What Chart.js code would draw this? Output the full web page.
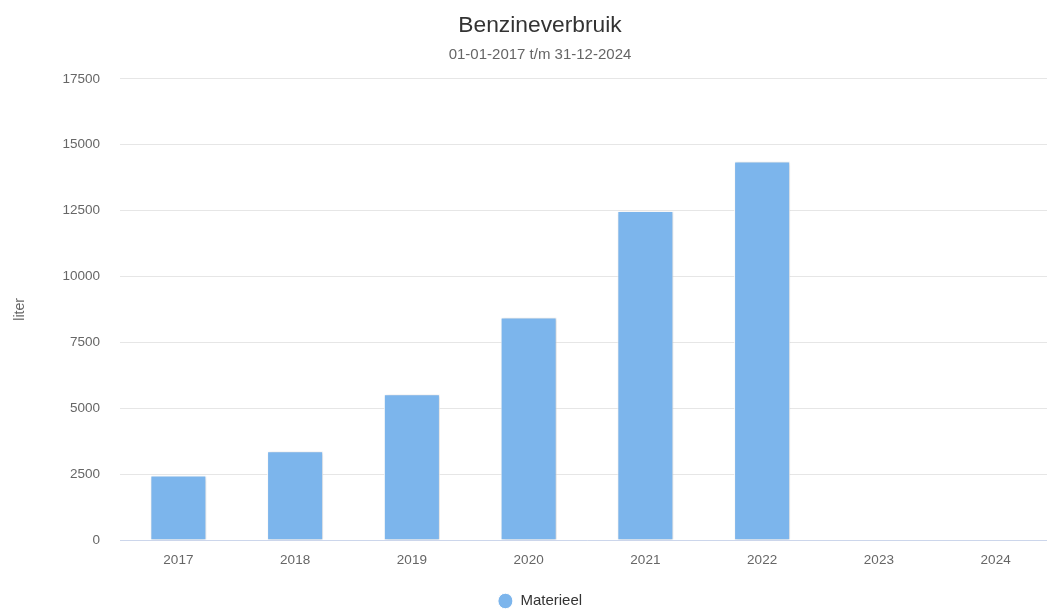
<!DOCTYPE html>
<html>
<head>
<meta charset="utf-8">
<title>Benzineverbruik</title>
<script src="https://cdn.jsdelivr.net/npm/chart.js@4/dist/chart.umd.min.js"></script>
<style>
  html, body { margin: 0; padding: 0; background: #ffffff; overflow: hidden; }
  #wrap { position: absolute; left: 0; top: 0; width: 1080px; height: 610px; }
</style>
</head>
<body>
<div id="wrap"><canvas id="chart"></canvas></div>
<script>
// Years on the x axis
const years = ['2017', '2018', '2019', '2020', '2021', '2022', '2023', '2024'];
// Fuel use per year, in liters
const materieel = [2447, 3371, 5529, 8447, 12481, 14368, 0, 0];
// Value axis range and step
const yMin = 0;
const yMax = 17500;
const yStep = 2500;

const FONT = "'Liberation Sans', Arial, Helvetica, sans-serif";

// Soft drop shadow behind the columns
const columnShadow = {
  id: 'columnShadow',
  beforeDatasetsDraw(chart) {
    const ctx = chart.ctx;
    ctx.save();
    ctx.shadowColor = 'rgba(0, 0, 0, 0.2)';
    ctx.shadowBlur = 3;
    ctx.shadowOffsetX = 1;
    ctx.shadowOffsetY = 1;
  },
  afterDatasetsDraw(chart) {
    chart.ctx.restore();
  }
};

new Chart(document.getElementById('chart'), {
  type: 'bar',
  data: {
    labels: years,
    datasets: [{
      label: 'Materieel',
      data: materieel,
      backgroundColor: '#7cb5ec',
      borderColor: '#ffffff',
      borderWidth: 1,
      categoryPercentage: 0.6,
      barPercentage: 0.8
    }]
  },
  plugins: [columnShadow],
  options: {
    responsive: true,
    maintainAspectRatio: false,
    animation: false,
    layout: { padding: { left: 26, right: 26, top: 0, bottom: -8.5 } },
    plugins: {
      title: {
        display: true,
        text: 'Benzineverbruik',
        color: '#333333',
        font: { family: FONT, size: 22.8, weight: 'normal' },
        padding: { top: 12, bottom: 0 }
      },
      subtitle: {
        display: true,
        text: '01-01-2017 t/m 31-12-2024',
        color: '#666666',
        font: { family: FONT, size: 15, weight: 'normal' },
        padding: { top: 6, bottom: 15.5 }
      },
      legend: {
        display: true,
        position: 'bottom',
        labels: {
          usePointStyle: true,
          pointStyle: 'circle',
          boxHeight: 11,
          boxWidth: 15,
          pointStyleWidth: 15,
          color: '#333333',
          font: { family: FONT, size: 15 },
          padding: 2
        }
      },
      tooltip: { enabled: false }
    },
    scales: {
      x: {
        grid: { display: false, drawTicks: false },
        border: { display: true, color: '#ccd6eb', width: 1 },
        ticks: {
          color: '#666666',
          font: { family: FONT, size: 13.5 },
          padding: 12,
          maxRotation: 0
        },
        afterFit(scale) { scale.height = 51.5; }
      },
      y: {
        min: yMin,
        max: yMax,
        grid: { color: '#e6e6e6', drawTicks: false },
        border: { display: false },
        ticks: {
          stepSize: yStep,
          color: '#666666',
          font: { family: FONT, size: 13.5 },
          padding: 20,
          callback: (value) => String(value)
        },
        title: {
          display: true,
          text: 'liter',
          color: '#666666',
          font: { family: FONT, size: 14 },
          padding: { top: -14, bottom: 0 }
        },
        afterFit(scale) { scale.width = 94; }
      }
    }
  }
});
</script>
</body>
</html>
